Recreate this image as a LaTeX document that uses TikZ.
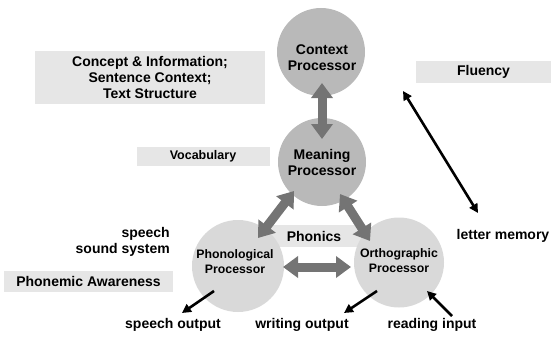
\documentclass[tikz,border=0pt]{standalone}
\usepackage{fontspec}
\setmainfont{Liberation Sans}
\usetikzlibrary{arrows.meta}
\definecolor{boxgray}{HTML}{E6E6E6}
\definecolor{topgray}{HTML}{B9B9B9}
\definecolor{lowgray}{HTML}{D9D9D9}
\definecolor{arrgray}{HTML}{747474}
\tikzset{
  lbl/.style={font=\bfseries\fontsize{14}{16}\selectfont, inner sep=0pt, align=center},
  graybox/.style={fill=boxgray, draw=none, inner sep=0pt, font=\bfseries\fontsize{14}{16}\selectfont, align=center},
  proc/.style={circle, draw=none, inner sep=0pt, align=center, font=\bfseries\fontsize{14}{16}\selectfont},
  lowproc/.style={circle, draw=none, inner sep=0pt, align=center, font=\bfseries\fontsize{12.3}{15}\selectfont},
  fatarrow/.style={draw=arrgray, line width=9pt, {Triangle[length=15pt,width=21pt]}-{Triangle[length=15pt,width=21pt]}, shorten <=0pt, shorten >=0pt},
  thinarrow/.style={draw=black, line width=2.6pt, -{Triangle[length=9pt,width=9pt]}},
  thinboth/.style={draw=black, line width=2.6pt, {Triangle[length=9pt,width=9pt]}-{Triangle[length=9pt,width=9pt]}}
}
\begin{document}
\begin{tikzpicture}[x=1pt,y=-1pt]
\useasboundingbox (0,0) rectangle (553,337);
% background boxes
\node[graybox, minimum width=230pt, minimum height=53pt] (concept) at (150,77.5) {Concept \& Information;\\Sentence Context;\\Text Structure};
\node[graybox, minimum width=133pt, minimum height=19pt] (vocab) at (203,156.5) {\fontsize{12.5}{15}\selectfont Vocabulary};
\node[graybox, minimum width=135pt, minimum height=22pt] (fluency) at (483.5,72) {Fluency};
\node[graybox, minimum width=169pt, minimum height=21pt] (phonemic) at (88.5,281.5) {Phonemic Awareness};
\node[graybox, minimum width=104pt, minimum height=22pt] (phonicsbox) at (316,236) {};
% circles
\node[proc, fill=topgray, minimum size=88pt] (context) at (321,52) {};
\node[proc, fill=topgray, minimum size=88pt] (meaning) at (322,162) {};
\node[lowproc, fill=lowgray, minimum size=92pt] (phono) at (238,266) {};
\node[lowproc, fill=lowgray, minimum size=90pt] (ortho) at (399,262.5) {};
% circle texts
\node[lbl] (contextt) at (322,57.5) {Context\\Processor};
\node[lbl] (meaningt) at (322,162.5) {Meaning\\Processor};
\node[lbl, font=\bfseries\fontsize{12.3}{15}\selectfont] (phonot) at (235,261.5) {Phonological\\Processor};
\node[lbl, font=\bfseries\fontsize{12.3}{15}\selectfont] (orthot) at (399,261) {Orthographic\\Processor};
\node[lbl] (phonics) at (314,236) {Phonics};
% fat gray arrows
\coordinate (cm1) at (322,83);
\coordinate (cm2) at (322,139);
\coordinate (mp1) at (294,191);
\coordinate (mp2) at (258,238);
\coordinate (mo1) at (340,194);
\coordinate (mo2) at (370,241);
\coordinate (po1) at (283,267);
\coordinate (po2) at (351,267);
\draw[fatarrow] (cm1) -- (cm2);
\draw[fatarrow] (mp1) -- (mp2);
\draw[fatarrow] (mo1) -- (mo2);
\draw[fatarrow] (po1) -- (po2);
% labels
\node[lbl, align=right, anchor=east] (speech) at (170,242) {speech\\sound system};
\node[lbl] (letter) at (503,236) {letter memory};
\node[lbl] (speechout) at (173,325) {speech output};
\node[lbl] (writeout) at (302,325) {writing output};
\node[lbl] (readin) at (432,325) {reading input};
% black arrows
\coordinate (fl1) at (403,91);
\coordinate (fl2) at (478,213);
\draw[thinboth] (fl1) -- (fl2);
\coordinate (so1) at (214,291);
\coordinate (so2) at (182,313);
\draw[thinarrow] (so1) -- (so2);
\coordinate (wo1) at (377,291);
\coordinate (wo2) at (344,313);
\draw[thinarrow] (wo1) -- (wo2);
\coordinate (ri1) at (452,316);
\coordinate (ri2) at (427,291);
\draw[thinarrow] (ri1) -- (ri2);
\end{tikzpicture}
\end{document}
